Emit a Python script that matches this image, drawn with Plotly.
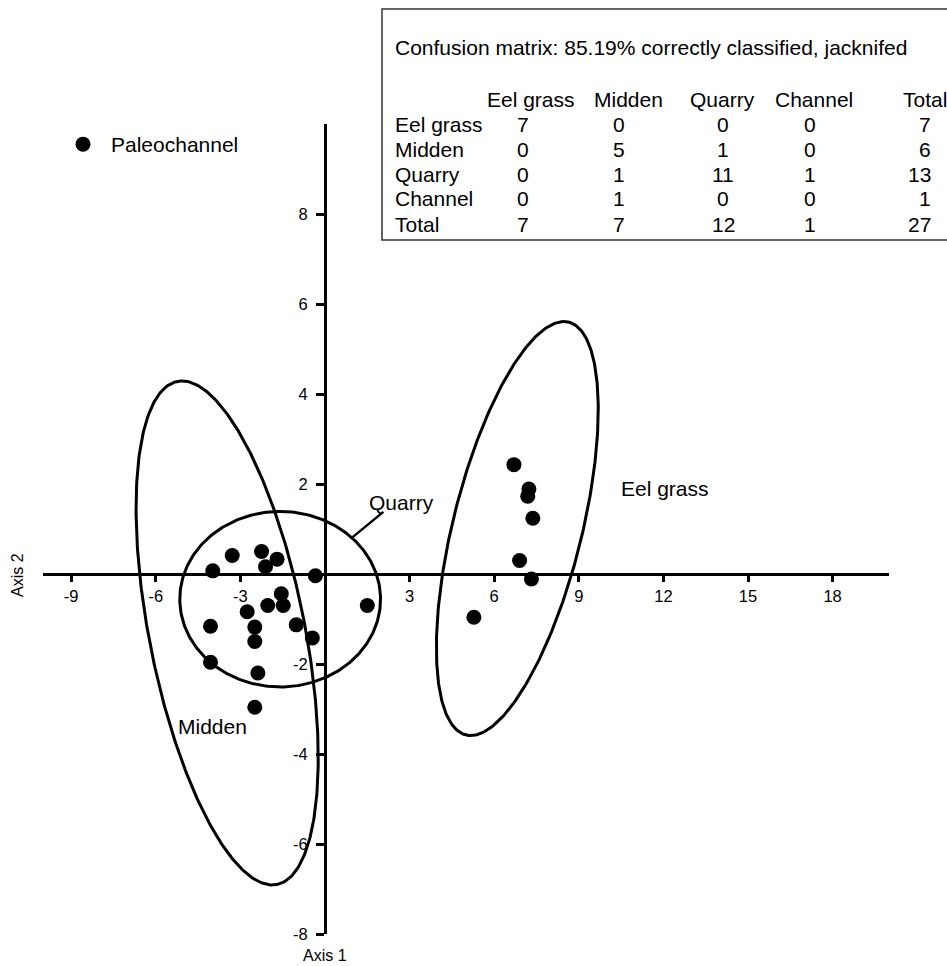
import numpy as np
import plotly.graph_objects as go

# ---------------- data ----------------
pts_x = [-3.29, -2.25, -1.70, -2.11, -3.98, -0.34, -1.55, -1.48, -2.03, -2.76,
         -4.06, -2.49, -2.49, -1.02, -0.45, 1.50, -4.06, -2.38, -2.49,
         6.70, 7.23, 7.19, 7.37, 6.90, 7.32, 5.28]
pts_y = [0.41, 0.50, 0.33, 0.16, 0.07, -0.04, -0.44, -0.70, -0.70, -0.84,
         -1.16, -1.18, -1.50, -1.13, -1.42, -0.70, -1.96, -2.20, -2.96,
         2.43, 1.89, 1.73, 1.24, 0.30, -0.11, -0.96]

# group ellipses: centre, half-width in x, half-height in y, x-offset of topmost point
ell_names = ["Midden", "Quarry", "Eel grass"]
ell_cx = [-3.47, -1.59, 6.82]
ell_cy = [-1.31, -0.56, 1.01]
ell_wx = [3.23, 3.56, 2.87]
ell_hy = [5.60, 1.95, 4.60]
ell_tx = [-1.60, 0.0, 1.65]

label_x = [-3.99, 2.71, 12.07]
label_y = [-3.38, 1.60, 1.91]

quarry_ptr_x = [0.98, 2.07]
quarry_ptr_y = [0.82, 1.38]

x_ticks = [-9, -6, -3, 3, 6, 9, 12, 15, 18]
y_ticks = [-8, -6, -4, -2, 2, 4, 6, 8]

tbl_title = "Confusion matrix: 85.19% correctly classified, jacknifed"
tbl_cols = ["Eel grass", "Midden", "Quarry", "Channel", "Total"]
tbl_rows = ["Eel grass", "Midden", "Quarry", "Channel", "Total"]
tbl_vals = [[7, 0, 0, 0, 7],
            [0, 5, 1, 0, 6],
            [0, 1, 11, 1, 13],
            [0, 1, 0, 0, 1],
            [7, 7, 12, 1, 27]]

# ---------------- figure ----------------
W, H = 947, 966
ML, MR, MT, MB = 43, 58, 124, 32
FONT = "Liberation Sans, Arial, sans-serif"


def px(xp):
    return (xp - ML) / (W - ML - MR)


def py(yp):
    return (H - MB - yp) / (H - MT - MB)


fig = go.Figure()

t = np.linspace(0, 2 * np.pi, 361)
for cx, cy, wx, hy, tx in zip(ell_cx, ell_cy, ell_wx, ell_hy, ell_tx):
    s = np.sqrt(wx ** 2 - tx ** 2)
    ex = cx + tx * np.cos(t) + s * np.sin(t)
    ey = cy + hy * np.cos(t)
    fig.add_trace(go.Scatter(x=ex, y=ey, mode="lines", showlegend=False,
                             line=dict(color="black", width=3), hoverinfo="skip"))

fig.add_trace(go.Scatter(x=quarry_ptr_x, y=quarry_ptr_y, mode="lines", showlegend=False,
                         line=dict(color="black", width=2.5), hoverinfo="skip"))

fig.add_trace(go.Scatter(x=pts_x, y=pts_y, mode="markers", name="Paleochannel",
                         marker=dict(color="black", size=15), showlegend=True))

annotations = []
for name, lx, ly in zip(ell_names, label_x, label_y):
    annotations.append(dict(x=lx, y=ly, xref="x", yref="y", text=name, showarrow=False,
                            xanchor="center", yanchor="middle",
                            font=dict(size=21, color="black", family=FONT)))

annotations.append(dict(x=px(17), y=py(575), xref="paper", yref="paper", text="Axis 2",
                        textangle=-90, showarrow=False, xanchor="center", yanchor="middle",
                        font=dict(size=16, color="black", family=FONT)))
annotations.append(dict(x=px(325), y=py(955), xref="paper", yref="paper", text="Axis 1",
                        showarrow=False, xanchor="center", yanchor="middle",
                        font=dict(size=16, color="black", family=FONT)))

# confusion matrix table
tf = dict(size=21, color="black", family=FONT)
annotations.append(dict(x=px(393), y=py(47), xref="paper", yref="paper", text=tbl_title,
                        showarrow=False, xanchor="left", yanchor="middle", font=tf))
head_cx = [531, 628, 722, 814]
val_cx = [523, 619, 723, 810]
row_y = [124, 149, 174, 199, 224]
for c, name in enumerate(tbl_cols):
    if c < 4:
        annotations.append(dict(x=px(head_cx[c]), y=py(99), xref="paper", yref="paper",
                                text=name, showarrow=False, xanchor="center",
                                yanchor="middle", font=tf))
    else:
        annotations.append(dict(x=px(949), y=py(99), xref="paper", yref="paper",
                                text=name, showarrow=False, xanchor="right",
                                yanchor="middle", font=tf))
for r, rname in enumerate(tbl_rows):
    annotations.append(dict(x=px(393), y=py(row_y[r]), xref="paper", yref="paper",
                            text=rname, showarrow=False, xanchor="left",
                            yanchor="middle", font=tf))
    for c, v in enumerate(tbl_vals[r]):
        if c < 4:
            annotations.append(dict(x=px(val_cx[c]), y=py(row_y[r]), xref="paper", yref="paper",
                                    text=str(v), showarrow=False, xanchor="center",
                                    yanchor="middle", font=tf))
        else:
            annotations.append(dict(x=px(933), y=py(row_y[r]), xref="paper", yref="paper",
                                    text=str(v), showarrow=False, xanchor="right",
                                    yanchor="middle", font=tf))

shapes = [dict(type="rect", xref="paper", yref="paper", x0=px(382), x1=px(990),
               y0=py(240), y1=py(9), line=dict(color="#333", width=1.5),
               fillcolor="white", layer="below")]

fig.update_layout(
    width=W, height=H,
    margin=dict(l=ML, r=MR, t=MT, b=MB),
    plot_bgcolor="white", paper_bgcolor="white",
    font=dict(family=FONT, color="black"),
    showlegend=True,
    legend=dict(x=px(55), y=py(124), xanchor="left", yanchor="top",
                bgcolor="rgba(0,0,0,0)", font=dict(size=21, color="black", family=FONT),
                itemwidth=46),
    xaxis=dict(range=[-10, 20], showgrid=False, zeroline=False, showline=True,
               linecolor="black", linewidth=3, ticks="outside", ticklen=6, tickwidth=2.5,
               tickcolor="black", tickvals=x_ticks, ticktext=[str(v) for v in x_ticks],
               tickfont=dict(size=16.5, color="black", family=FONT),
               anchor="free", position=8 / 18),
    yaxis=dict(range=[-8, 10], showgrid=False, zeroline=False, showline=True,
               linecolor="black", linewidth=3, ticks="outside", ticklen=8, tickwidth=3,
               tickcolor="black", tickvals=y_ticks, ticktext=[str(v) for v in y_ticks],
               tickfont=dict(size=16.5, color="black", family=FONT),
               ticklabelstandoff=5,
               anchor="free", position=10 / 30),
    annotations=annotations,
    shapes=shapes,
)

fig.write_html("out.html", config={"displayModeBar": False},
               post_script="document.body.style.margin='0';document.body.style.overflow='hidden';")
